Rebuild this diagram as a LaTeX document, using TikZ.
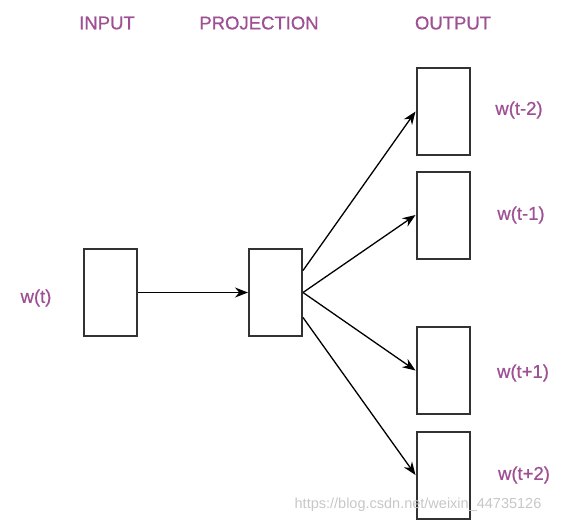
\documentclass[tikz,border=0pt]{standalone}
\usepackage{fontspec}
\setmainfont{Liberation Sans}
\newfontfamily\lblfont[BoldFont=Liberation Sans,BoldFeatures={FakeBold=0.7}]{Liberation Sans}
\usepackage{tikz}
\usetikzlibrary{arrows.meta}

\definecolor{lblpurple}{RGB}{158,80,148}
\definecolor{boxgray}{RGB}{50,50,50}

\begin{document}
\begin{tikzpicture}[x=1pt,y=-1pt,
		vecbox/.style={draw=boxgray,line width=2pt,minimum width=53pt,minimum height=87pt,inner sep=0pt},
		lbl/.style={text=lblpurple,font=\lblfont\bfseries\fontsize{18.5}{22}\selectfont,inner sep=0pt},
		flow/.style={-{Stealth[length=13pt,width=10pt]},line width=1.3pt}]
		\useasboundingbox (0,0) rectangle (561,523);
		% column titles
		\node[lbl] (tin) at (107,23) {INPUT};
		\node[lbl] (tproj) at (259,23) {PROJECTION};
		\node[lbl] (tout) at (453,23) {OUTPUT};
		% boxes
		\node[vecbox] (in) at (110.5,292.5) {};
		\node[vecbox] (proj) at (275.5,292.5) {};
		\node[vecbox] (om2) at (443,111.5) {};
		\node[vecbox] (om1) at (443,215) {};
		\node[vecbox] (op1) at (443,370.5) {};
		\node[vecbox] (op2) at (443,475) {};
		% word labels
		\node[lbl] (win) at (36,298) {w(t)};
		\node[lbl] (wm2) at (519,110) {w(t-2)};
		\node[lbl] (wm1) at (521,215) {w(t-1)};
		\node[lbl] (wp1) at (523,373) {w(t+1)};
		\node[lbl] (wp2) at (524,475) {w(t+2)};
		% arrows
		\draw[flow] (in.east) -- (proj.west);
		\draw[flow] ([yshift=22pt]proj.east) -- (om2.west);
		\draw[flow] (proj.east) -- (om1.west);
		\draw[flow] (proj.east) -- (op1.west);
		\draw[flow] ([yshift=-25pt]proj.east) -- (op2.west);
		% watermark
		\node[text=black!22,font=\fontsize{14.5}{16}\selectfont,inner sep=0pt] (wmark) at (418,505) {https://blog.csdn.net/weixin\_44735126};
\end{tikzpicture}
\end{document}
